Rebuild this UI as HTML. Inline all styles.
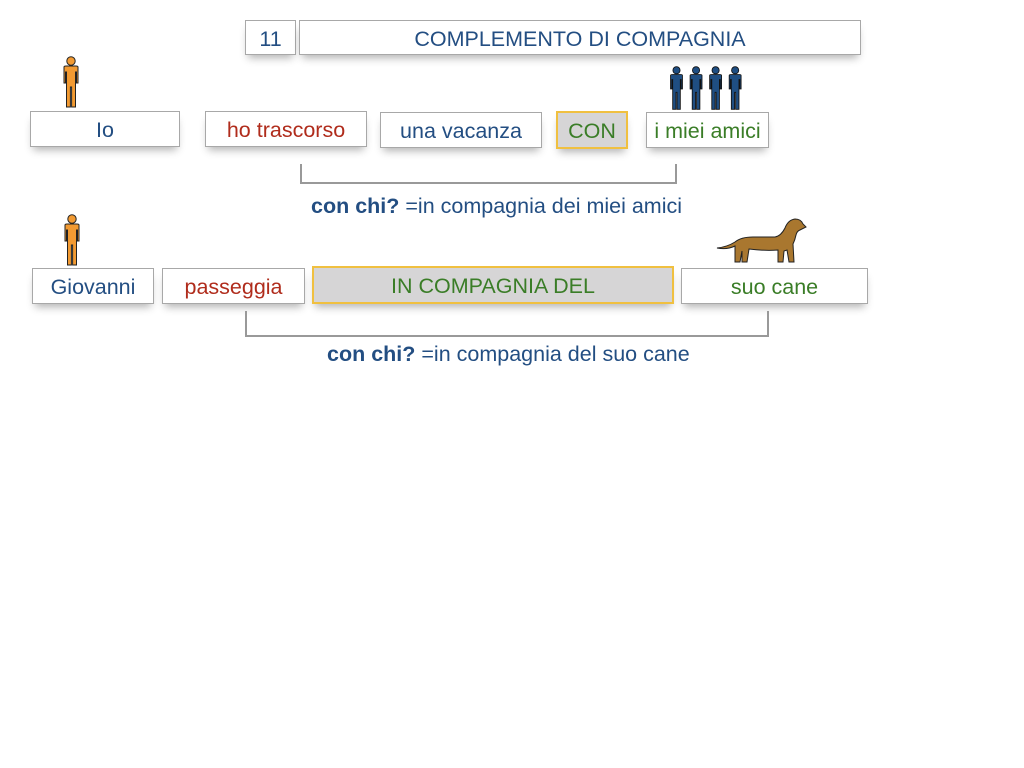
<!DOCTYPE html>
<html><head><meta charset="utf-8"><style>
body{margin:0;width:1024px;height:768px;background:#fff;position:relative;overflow:hidden;font-family:"Liberation Sans",sans-serif}
.b{position:absolute;box-sizing:border-box;background:#fff;border:1px solid #a8a8a8;text-align:center;font-size:21.5px;box-shadow:0 6px 8px -3px rgba(0,0,0,0.3);display:flex;align-items:center;justify-content:center;padding-top:3px;white-space:nowrap}
.g{background:#d6d5d6;border:2px solid #f0c040}
.bl{color:#234e82}.r{color:#b02c1c}.gr{color:#3a7d27}
.t{position:absolute;font-size:21.5px;color:#234e82;white-space:nowrap}
.ln{position:absolute;background:#999}
svg{position:absolute}
</style></head><body>
<div class="b bl" style="left:245px;top:20px;width:51px;height:35px">11</div>
<div class="b bl" style="left:299px;top:20px;width:562px;height:35px">COMPLEMENTO DI COMPAGNIA</div>

<div class="b bl" style="left:30px;top:111px;width:150px;height:36px">Io</div>
<div class="b r" style="left:205px;top:111px;width:162px;height:36px">ho trascorso</div>
<div class="b bl" style="left:380px;top:112px;width:162px;height:36px">una vacanza</div>
<div class="b g gr" style="left:556px;top:111px;width:72px;height:38px">CON</div>
<div class="b gr" style="left:646px;top:112px;width:123px;height:36px">i miei amici</div>

<div class="ln" style="left:300px;top:164px;width:2px;height:20px"></div>
<div class="ln" style="left:300px;top:182px;width:377px;height:2px"></div>
<div class="ln" style="left:675px;top:164px;width:2px;height:20px"></div>
<div class="t" style="left:311px;top:194px"><b>con chi?</b> =in compagnia dei miei amici</div>

<div class="b bl" style="left:32px;top:268px;width:122px;height:36px">Giovanni</div>
<div class="b r" style="left:162px;top:268px;width:143px;height:36px">passeggia</div>
<div class="b g gr" style="left:312px;top:266px;width:362px;height:38px">IN COMPAGNIA DEL</div>
<div class="b gr" style="left:681px;top:268px;width:187px;height:36px">suo cane</div>

<div class="ln" style="left:245px;top:311px;width:2px;height:26px"></div>
<div class="ln" style="left:245px;top:335px;width:524px;height:2px"></div>
<div class="ln" style="left:767px;top:311px;width:2px;height:26px"></div>
<div class="t" style="left:327px;top:342px"><b>con chi?</b> =in compagnia del suo cane</div>

<svg width="0" height="0"><defs>
<g id="p"><circle cx="10" cy="5" r="4.2"/><path d="M3 11 Q3 10 5 10 L15 10 Q17 10 17 11 L17 27 L15.5 27 L15.5 16 L14.5 16 L14.5 51 L10.6 51 L10.6 31 L9.4 31 L9.4 51 L5.5 51 L5.5 16 L4.5 16 L4.5 27 L3 27 Z"/></g>
</defs></svg>
<svg style="left:61px;top:56px" width="21" height="53"><use href="#p" fill="#f29a32" stroke="#222" stroke-width="1"/></svg>
<svg style="left:62px;top:214px" width="21" height="53"><use href="#p" fill="#f29a32" stroke="#222" stroke-width="1"/></svg>
<svg style="left:668px;top:66px" width="80" height="45">
<g transform="scale(0.85)" fill="#1f4e82" stroke="#111" stroke-width="1">
<use href="#p"/><use href="#p" x="23"/><use href="#p" x="46"/><use href="#p" x="69"/></g></svg>
<svg style="left:715px;top:216px" width="92" height="50">
<path d="M2 32 Q12 31 20 26 Q26 21 38 21 L60 21 Q66 20 70 12 Q73 4 80 3 Q86 3 88 8 L91 11 L85 14 Q82 15 81 19 Q80 24 78 28 L79 46 L74 46 L72 34 L69 35 L68 46 L63 46 L63 34 Q50 35 34 33 L32 46 L27 46 L27 35 L25 46 L20 46 L20 30 Q12 34 2 32 Z" fill="#a9772f" stroke="#222" stroke-width="1"/></svg>
</body></html>
